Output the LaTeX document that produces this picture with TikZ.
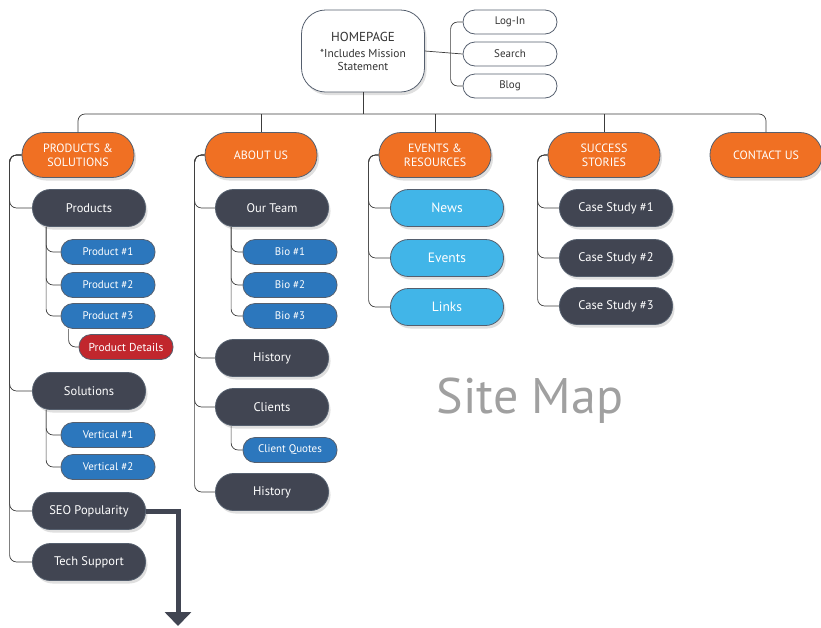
\documentclass[tikz,border=0pt]{standalone}
\usepackage{fontspec}
\setmainfont{PT Sans}
\usetikzlibrary{arrows.meta,shadows}

\definecolor{catorange}{RGB}{240,112,35}
\definecolor{pagedark}{RGB}{65,69,82}
\definecolor{subblue}{RGB}{44,119,189}
\definecolor{reslight}{RGB}{65,181,232}
\definecolor{detailred}{RGB}{193,39,45}
\definecolor{boxline}{RGB}{85,95,110}
\definecolor{treeline}{RGB}{60,60,60}
\definecolor{mapgray}{RGB}{160,160,160}

\begin{document}
\begin{tikzpicture}[x=1pt,y=-1pt,
    shade/.style={drop shadow={opacity=0.25,shadow xshift=2pt,shadow yshift=-3pt}},
    home/.style={draw=boxline,line width=0.8pt,fill=white,rounded corners=24pt,minimum width=123pt,minimum height=82pt,inner sep=0pt,align=center,text=black!80,shade},
    link/.style={draw=boxline,line width=0.8pt,fill=white,rounded corners=12pt,minimum width=94pt,minimum height=24pt,inner sep=0pt,text=black!80,font=\fontsize{11}{13}\selectfont},
    cat/.style={draw=boxline,line width=0.8pt,fill=catorange,rounded corners=22pt,minimum width=112pt,minimum height=45pt,inner sep=0pt,align=center,text=white,font=\fontsize{12}{14}\selectfont,shade},
    page/.style={draw=boxline,line width=0.8pt,fill=pagedark,rounded corners=18pt,minimum width=113pt,minimum height=37pt,inner sep=0pt,text=white,font=\fontsize{12.5}{15}\selectfont,shade},
    res/.style={page,fill=reslight,font=\fontsize{13.5}{16}\selectfont},
    sub/.style={draw=boxline,line width=0.8pt,fill=subblue,rounded corners=12pt,minimum width=94pt,minimum height=25pt,inner sep=0pt,text=white,font=\fontsize{11}{13}\selectfont},
    detail/.style={sub,fill=detailred,font=\fontsize{11.5}{13}\selectfont},
    tree/.style={draw=treeline,line width=0.7pt,rounded corners=7pt},
    seoline/.style={draw=pagedark,line width=5pt,-{Triangle[width=26pt,length=14pt]}}]

    \useasboundingbox (0,0) rectangle (821,627);

    \node[home] (home) at (363,51) {{\fontsize{13}{15}\selectfont HOMEPAGE}\\[4pt]{\fontsize{11.5}{15}\selectfont *Includes Mission}\\[1pt]{\fontsize{11.5}{13}\selectfont Statement}};
    \node[link] (login) at (510,22) {Log-In};
    \node[link] (search) at (510,54) {Search};
    \node[link] (blog) at (510,86) {Blog};

    \node[cat] (ps) at (78,155) {PRODUCTS \&\\SOLUTIONS};
    \node[cat] (about) at (261,155) {ABOUT US};
    \node[cat] (evres) at (435,155) {EVENTS \&\\RESOURCES};
    \node[cat] (stories) at (604,155) {SUCCESS\\STORIES};
    \node[cat] (contact) at (766,155) {CONTACT US};
    \coordinate (bar) at (363,114);

    \node[page] (products) at (89,208) {Products};
    \node[sub] (prod1) at (108,252) {Product \#1};
    \node[sub] (prod2) at (108,285) {Product \#2};
    \node[sub] (prod3) at (108,316) {Product \#3};
    \node[detail] (details) at (126,347) {Product Details};
    \node[page] (solutions) at (89,391) {Solutions};
    \node[sub] (vert1) at (108,435) {Vertical \#1};
    \node[sub] (vert2) at (108,467) {Vertical \#2};
    \node[page] (seo) at (89,511) {SEO Popularity};
    \node[page] (tech) at (89,562) {Tech Support};
    \coordinate (seoend) at (178,626);

    \node[page] (team) at (272,208) {Our Team};
    \node[sub] (bio1) at (290,252) {Bio \#1};
    \node[sub] (bio2) at (290,285) {Bio \#2};
    \node[sub] (bio3) at (290,316) {Bio \#3};
    \node[page] (history) at (272,358) {History};
    \node[page] (clients) at (272,407) {Clients};
    \node[sub] (quotes) at (290,450) {Client Quotes};
    \node[page] (history2) at (272,492) {History};

    \node[res] (news) at (447,208) {News};
    \node[res] (events) at (447,258) {Events};
    \node[res] (links) at (447,307) {Links};

    \node[page] (case1) at (616,208) {Case Study \#1};
    \node[page] (case2) at (616,258) {Case Study \#2};
    \node[page] (case3) at (616,306) {Case Study \#3};

    \node[text=mapgray,font=\fontsize{50}{56}\selectfont] (sitemap) at (530,401) {Site Map};

    \draw[tree] (home.east) -- (search.west);
    \draw[tree] (login.west) -- ++(-12,0) |- (blog.west);
    \draw[tree] (home.south) -- (bar);
    \draw[tree] (ps.north) |- (bar) -| (contact.north);
    \draw[tree] (about.north) -- (about.north |- bar);
    \draw[tree] (evres.north) -- (evres.north |- bar);
    \draw[tree] (stories.north) -- (stories.north |- bar);

    \foreach \c in {products,solutions,seo,tech}
        \draw[tree] (ps.west) -- ++(-12,0) |- (\c.west);
    \foreach \c in {prod1,prod2,prod3}
        \draw[tree] ([xshift=14pt]products.south west) |- (\c.west);
    \draw[tree] ([xshift=8pt]prod3.south west) |- (details.west);
    \foreach \c in {vert1,vert2}
        \draw[tree] ([xshift=14pt]solutions.south west) |- (\c.west);
    \draw[seoline] (seo.east) -| (seoend);

    \foreach \c in {team,history,clients,history2}
        \draw[tree] (about.west) -- ++(-10,0) |- (\c.west);
    \foreach \c in {bio1,bio2,bio3}
        \draw[tree] ([xshift=16pt]team.south west) |- (\c.west);
    \draw[tree] ([xshift=16pt]clients.south west) |- (quotes.west);

    \foreach \c in {news,events,links}
        \draw[tree] (evres.west) -- ++(-10,0) |- (\c.west);
    \foreach \c in {case1,case2,case3}
        \draw[tree] (stories.west) -- ++(-10,0) |- (\c.west);
\end{tikzpicture}
\end{document}
